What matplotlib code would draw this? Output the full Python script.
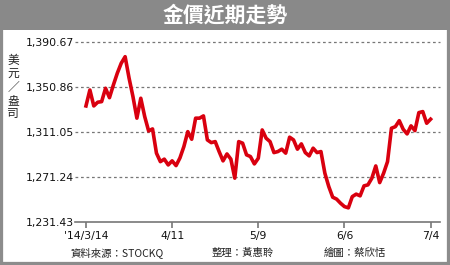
import matplotlib
matplotlib.use("Agg")
import matplotlib.pyplot as plt
from matplotlib.patches import Rectangle
import numpy as np

plt.rcParams['font.family'] = ['DejaVu Sans', 'Noto Sans CJK TC']

title = "金價近期走勢"
ylabel_chars = ["美", "元", "／", "盎", "司"]
ytick_values = [1231.43, 1271.24, 1311.05, 1350.86, 1390.67]
ytick_labels = ["1,231.43", "1,271.24", "1,311.05", "1,350.86", "1,390.67"]
xtick_pos = [0, 22, 44, 66, 88]
xtick_labels = ["'14/3/14", "4/11", "5/9", "6/6", "7/4"]
credits = ["資料來源：STOCKQ", "整理：黃惠聆", "繪圖：蔡欣恬"]

prices = [1334.2, 1348.3, 1334.2, 1337.5, 1338.0, 1349.8, 1341.5, 1352.7, 1363.1, 1371.9,
          1377.7, 1358.9, 1342.4, 1323.4, 1341.0, 1324.8, 1312.1, 1313.9, 1292.5, 1285.0,
          1287.2, 1282.1, 1285.7, 1281.5, 1288.3, 1298.3, 1311.5, 1304.8, 1323.4, 1323.4,
          1325.4, 1304.2, 1301.8, 1302.7, 1293.9, 1285.7, 1291.8, 1287.2, 1270.4, 1302.7,
          1301.3, 1291.0, 1289.5, 1283.0, 1288.0, 1313.0, 1305.7, 1302.7, 1293.0, 1293.9,
          1296.0, 1292.5, 1306.6, 1304.2, 1296.0, 1300.7, 1293.0, 1290.1, 1296.9, 1293.0,
          1293.9, 1274.8, 1263.0, 1253.6, 1251.9, 1248.3, 1245.3, 1244.2, 1254.1, 1256.3,
          1254.8, 1263.6, 1264.5, 1270.4, 1281.2, 1266.5, 1274.8, 1285.0, 1314.5, 1315.9,
          1321.2, 1313.6, 1309.5, 1316.6, 1312.4, 1328.3, 1329.2, 1318.9, 1322.5]

W, H = 450, 265
fig = plt.figure(figsize=(W / 100, H / 100), dpi=100)
fig.patch.set_facecolor("white")

# frame and title bar
fig.patches.append(Rectangle((0, 0), 1, 1, transform=fig.transFigure,
                             facecolor="none", edgecolor="#8c8c8c", linewidth=4.5, zorder=0))
fig.patches.append(Rectangle((0, 1 - 30 / H), 1, 30 / H, transform=fig.transFigure,
                             facecolor="#898989", edgecolor="none", zorder=0))
fig.text(0.5, 1 - 15.5 / H, title, color="white", fontsize=15, ha="center", va="center",
         family=['Noto Sans CJK TC'], fontweight="bold")

ax = fig.add_axes([75 / W, 1 - 222.3 / H, (440 - 75) / W, (222.3 - 42) / H])
x = np.arange(len(prices))
ax.plot(x, prices, color="#d9000f", linewidth=2.6, solid_joinstyle="round", zorder=3)

ax.set_ylim(ytick_values[0], ytick_values[-1])
ax.set_xlim(-2.8, 90.4)
ax.set_yticks(ytick_values)
ax.set_yticklabels(ytick_labels, fontsize=7.8)
ax.set_xticks(xtick_pos)
ax.set_xticklabels(xtick_labels, fontsize=7.8)

for v in ytick_values[1:]:
    ax.axhline(v, color="#777777", linewidth=0.9, linestyle=(0, (2.2, 2.2)), zorder=1,
               clip_on=False)

for s in ["top", "right", "left"]:
    ax.spines[s].set_visible(False)
ax.spines["bottom"].set_color("#777777")
ax.spines["bottom"].set_linewidth(1.2)
ax.tick_params(axis="y", length=0, pad=1, colors="#111111")
ax.tick_params(axis="x", direction="out", length=4, width=1.2, color="#777777",
               pad=2, labelcolor="#111111")
ax.set_facecolor("none")

# vertical y label
for i, ch in enumerate(ylabel_chars):
    fig.text(13 / W, 1 - (60 + i * 13.5) / H, ch, fontsize=8.5, ha="center", va="center",
             family=['Noto Sans CJK TC'], color="#222222",
             rotation=0)

# credits line
credit_x = [117, 243, 355]
for cx, t in zip(credit_x, credits):
    fig.text(cx / W, 1 - 253 / H, t, fontsize=7.5, ha="center", va="center",
             family=['Noto Sans CJK TC', 'DejaVu Sans'], color="#222222")

fig.savefig("out.png", dpi=100)
